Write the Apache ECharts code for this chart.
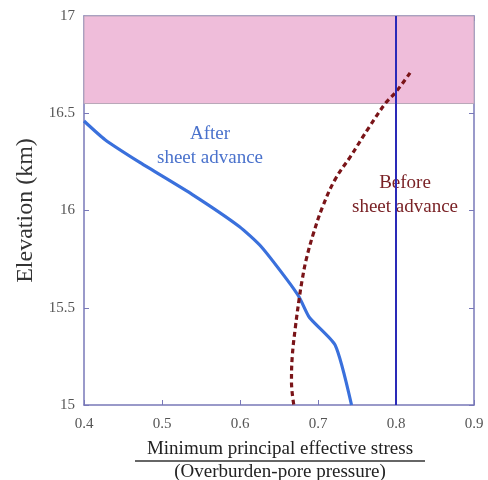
<!DOCTYPE html>
<html>
<head>
<meta charset="utf-8">
<script src="https://cdn.jsdelivr.net/npm/echarts@6/dist/echarts.min.js"></script>
<style>
  html, body { margin: 0; padding: 0; background: #fff; }
  #main { width: 488px; height: 480px; }
</style>
</head>
<body>
<div id="main"></div>
<script>
// stress ratio (x) vs elevation km (y)
var afterX = [0.400, 0.427, 0.472, 0.539, 0.599, 0.627, 0.660, 0.676, 0.689, 0.722, 0.743]
var afterY = [16.46, 16.364, 16.246, 16.082, 15.918, 15.815, 15.646, 15.554, 15.45, 15.308, 15.0]
var beforeX = [0.818, 0.800, 0.787, 0.766, 0.742, 0.722, 0.706, 0.694, 0.685, 0.680, 0.676, 0.671, 0.667, 0.666, 0.669]
var beforeY = [16.708, 16.61, 16.554, 16.431, 16.28, 16.16, 16.02, 15.88, 15.75, 15.65, 15.55, 15.40, 15.25, 15.12, 15.0]
var saltTop = 17
var saltBase = 16.55
var saltLimit = 0.8

function pairs(xs, ys) {
  var out = []
  xs.forEach(function(x, i) { out.push([x, ys[i]]) })
  return out
}

var axisColor = '#7878b8'
var labelFont = { fontFamily: 'Liberation Serif', fontSize: 15, color: '#555' }

var myChart = echarts.init(document.getElementById('main'))
var option = {
  animation: false,
  grid: { left: 84, right: 14, top: 16, bottom: 75 },
  xAxis: [
    {
      type: 'value', min: 0.4, max: 0.9, interval: 0.1,
      axisLine: { lineStyle: { color: axisColor, width: 1.5 } },
      axisTick: { inside: true, length: 5, lineStyle: { color: axisColor } },
      axisLabel: Object.assign({ margin: 12 }, labelFont),
      splitLine: { show: false }
    },
    {
      type: 'value', position: 'top', min: 0.4, max: 0.9, interval: 0.1,
      axisLine: { lineStyle: { color: axisColor, width: 1.5 } },
      axisTick: { inside: true, length: 5, lineStyle: { color: axisColor } },
      axisLabel: { show: false },
      splitLine: { show: false }
    }
  ],
  yAxis: [
    {
      type: 'value', min: 15, max: 17, interval: 0.5,
      name: 'Elevation (km)', nameLocation: 'middle', nameGap: 41,
      nameTextStyle: { fontFamily: 'Liberation Serif', fontSize: 24, color: '#333' },
      axisLine: { lineStyle: { color: axisColor, width: 1.5 } },
      axisTick: { inside: true, length: 5, lineStyle: { color: axisColor } },
      axisLabel: Object.assign({ margin: 9 }, labelFont),
      splitLine: { show: false }
    },
    {
      type: 'value', position: 'right', min: 15, max: 17, interval: 0.5,
      axisLine: { show: true, lineStyle: { color: axisColor, width: 1.5 } },
      axisTick: { show: true, inside: true, length: 5, lineStyle: { color: axisColor } },
      axisLabel: { show: false },
      splitLine: { show: false }
    }
  ],
  series: [
    {
      name: 'After',
      type: 'line',
      data: pairs(afterX, afterY),
      showSymbol: false,
      smooth: 0.2,
      lineStyle: { color: '#3a70dc', width: 3.2 },
      markArea: {
        silent: true,
        itemStyle: { color: '#efbdda', borderColor: '#b8a8b8', borderWidth: 1 },
        data: [[{ yAxis: saltBase }, { yAxis: saltTop }]]
      },
      z: 3
    },
    {
      name: 'Before',
      type: 'line',
      data: pairs(beforeX, beforeY),
      showSymbol: false,
      smooth: 0.4,
      lineStyle: { color: '#7a1418', width: 3.2, type: [5, 3.5] },
      markLine: {
        silent: true,
        symbol: 'none',
        label: { show: false },
        lineStyle: { color: '#2a2ab8', width: 2, type: 'solid' },
        data: [{ xAxis: saltLimit }]
      },
      z: 4
    }
  ],
  graphic: [
    { type: 'text', left: 401, top: 37, style: { text: 'SALT', font: '14px "Liberation Serif"', fill: '#222' } },
    { type: 'text', x: 210, y: 146, style: { text: 'After\nsheet advance', font: '19px "Liberation Serif"', fill: '#4a72cc', textAlign: 'center', textVerticalAlign: 'middle', lineHeight: 24 } },
    { type: 'text', x: 405, y: 195, style: { text: 'Before\nsheet advance', font: '19px "Liberation Serif"', fill: '#7a2226', textAlign: 'center', textVerticalAlign: 'middle', lineHeight: 24 } },
    { type: 'text', x: 280, y: 449, style: { text: 'Minimum principal effective stress', font: '19px "Liberation Serif"', fill: '#222', textAlign: 'center', textVerticalAlign: 'middle' } },
    { type: 'line', shape: { x1: 135, y1: 461, x2: 425, y2: 461 }, style: { stroke: '#333', lineWidth: 1.5 } },
    { type: 'text', x: 280, y: 472, style: { text: '(Overburden-pore pressure)', font: '19px "Liberation Serif"', fill: '#222', textAlign: 'center', textVerticalAlign: 'middle' } }
  ]
}
myChart.setOption(option)
</script>
</body>
</html>
